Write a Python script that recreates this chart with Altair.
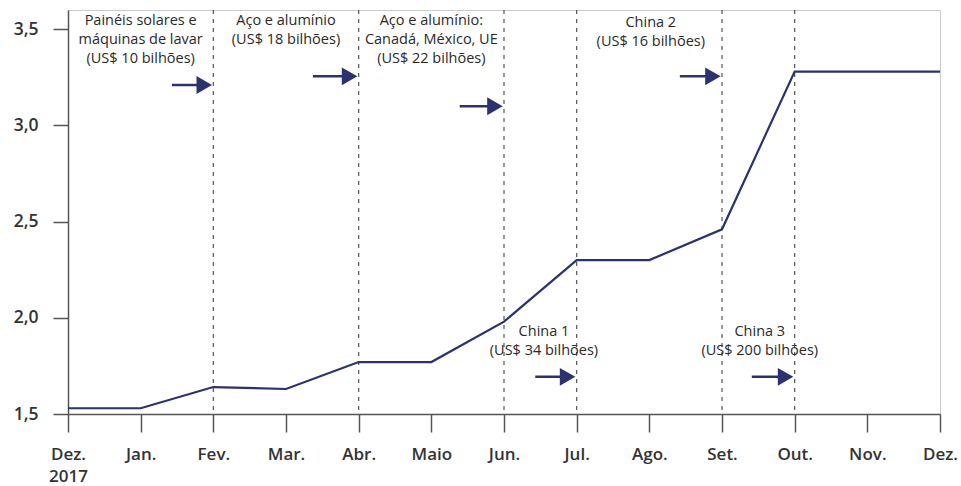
import json
import altair as alt
import pandas as pd

# ---- data ----
months = ["Dez.", "Jan.", "Fev.", "Mar.", "Abr.", "Maio", "Jun.", "Jul.", "Ago.", "Set.", "Out.", "Nov.", "Dez."]
values = [1.53, 1.53, 1.64, 1.63, 1.77, 1.77, 1.98, 2.30, 2.30, 2.46, 3.28, 3.28, 3.28]
y_ticks = [1.5, 2.0, 2.5, 3.0, 3.5]

# dashed event lines (month index)
event_months = [2, 4, 6, 7, 9, 10]

# annotations
ann_text = [
    "Painéis solares e\nmáquinas de lavar\n(US$ 10 bilhões)",
    "Aço e alumínio\n(US$ 18 bilhões)",
    "Aço e alumínio:\nCanadá, México, UE\n(US$ 22 bilhões)",
    "China 2\n(US$ 16 bilhões)",
    "China 1\n(US$ 34 bilhões)",
    "China 3\n(US$ 200 bilhões)",
]
ann_x = [1.0, 3.0, 5.0, 8.02, 6.55, 9.52]
ann_y = [3.58, 3.58, 3.58, 3.57, 1.965, 1.965]

# arrows: end month, start month, level
arrow_end = [2, 4, 6, 9, 7, 10]
arrow_start = [1.43, 3.37, 5.39, 8.42, 6.43, 9.41]
arrow_y = [3.21, 3.255, 3.10, 3.255, 1.693, 1.693]

NAVY = "#2c3170"
FONT = "Open Sans"

df = pd.DataFrame({"m": list(range(len(months))), "v": values})
ev = pd.DataFrame({"m": event_months})
ann = pd.DataFrame({"x": ann_x, "y": ann_y, "t": ann_text})
arr = pd.DataFrame({"x1": arrow_start, "x2": [e - 0.125 for e in arrow_end], "y": arrow_y})

xscale = alt.Scale(domain=[0, 12], nice=False, zero=False)
yscale = alt.Scale(domain=[1.5, 3.6], nice=False, zero=False)

month_arr = json.dumps(months, ensure_ascii=False)
x_label_expr = f"datum.value == 0 ? ['Dez.', '2017'] : {month_arr}[datum.value]"

x_axis = alt.Axis(
    values=list(range(13)), labelExpr=x_label_expr, grid=False, title=None,
    tickSize=18, labelPadding=14, labelFontSize=17, labelFont=FONT, labelFontWeight=600,
    labelColor="#333333", labelLineHeight=22, labelOverlap=False, labelFlush=False,
    domainColor="#555555", tickColor="#555555", domainWidth=1.5, tickWidth=1.5,
)
y_axis = alt.Axis(
    values=y_ticks, labelExpr="replace(format(datum.value, '.1f'), '.', ',')", grid=False, title=None,
    tickSize=15, labelPadding=15, labelFontSize=17.5, labelFont=FONT, labelFontWeight=600,
    labelColor="#333333", domainColor="#555555", tickColor="#555555", domainWidth=1.5, tickWidth=1.5,
)

line = alt.Chart(df).mark_line(color=NAVY, strokeWidth=2.2).encode(
    x=alt.X("m:Q", scale=xscale, axis=x_axis),
    y=alt.Y("v:Q", scale=yscale, axis=y_axis),
)

rules = alt.Chart(ev).mark_rule(color="#555555", strokeWidth=1.2, strokeDash=[4, 5]).encode(
    x=alt.X("m:Q", scale=xscale)
)

texts = alt.Chart(ann).mark_text(
    font=FONT, fontSize=14.5, color="#2a2a2a", align="center", baseline="top",
    lineBreak="\n", lineHeight=19,
).encode(
    x=alt.X("x:Q", scale=xscale), y=alt.Y("y:Q", scale=yscale), text="t:N"
)

shafts = alt.Chart(arr).mark_rule(color=NAVY, strokeWidth=2.5).encode(
    x=alt.X("x1:Q", scale=xscale), x2="x2:Q", y=alt.Y("y:Q", scale=yscale)
)
heads = alt.Chart(arr).mark_point(shape="triangle-right", filled=True, color=NAVY, size=320, opacity=1).encode(
    x=alt.X("x2:Q", scale=xscale), y=alt.Y("y:Q", scale=yscale)
)

chart = alt.layer(rules, line, shafts, heads, texts).properties(
    width=872, height=404,
    padding={"left": 68, "top": 10, "right": 21, "bottom": 72},
    autosize=alt.AutoSizeParams(type="none"),
).configure_view(stroke="#cccccc", strokeWidth=1)

chart.save("out.html", embed_options={"renderer": "svg", "actions": False})
